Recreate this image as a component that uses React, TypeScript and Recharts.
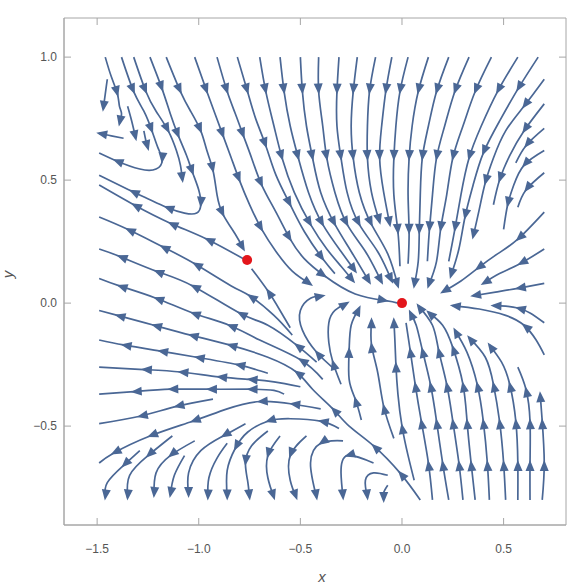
import React from "react";
import { ComposedChart, Line, Scatter, XAxis, YAxis, ReferenceArea, ReferenceLine } from "recharts";

// streamlines: [x, y] or [x, y, 1] where an arrowhead sits
type Pt = number[];

const topLeftStreams: Pt[][] = [
  [[-1.46, 1.0], [-1.43, 0.92], [-1.4, 0.85, 1], [-1.39, 0.8], [-1.38, 0.77], [-1.39, 0.73, 1]],
  [[-1.45, 0.91], [-1.46, 0.85], [-1.47, 0.79, 1]],
  [[-1.35, 0.8], [-1.33, 0.74], [-1.31, 0.67, 1]],
  [[-1.27, 0.7], [-1.26, 0.66], [-1.25, 0.63, 1]],
  [[-1.37, 0.67], [-1.43, 0.68], [-1.49, 0.69, 1]],
  [[-1.38, 1.0], [-1.32, 0.86, 1], [-1.27, 0.78], [-1.23, 0.7, 1], [-1.2, 0.63], [-1.18, 0.58, 1], [-1.21, 0.545], [-1.29, 0.545], [-1.41, 0.58, 1], [-1.49, 0.61]],
  [[-1.32, 1.0], [-1.26, 0.86, 1], [-1.21, 0.78], [-1.15, 0.7, 1], [-1.11, 0.62], [-1.09, 0.56], [-1.08, 0.5, 1]],
  [[-1.24, 1.0], [-1.18, 0.87, 1], [-1.14, 0.77], [-1.1, 0.68, 1], [-1.06, 0.6], [-1.03, 0.53, 1], [-1.0, 0.46], [-0.99, 0.4, 1], [-1.01, 0.366], [-1.07, 0.366], [-1.16, 0.39, 1], [-1.24, 0.42], [-1.33, 0.455, 1], [-1.49, 0.52]],
  [[-1.16, 1.0], [-1.09, 0.86, 1], [-1.04, 0.78], [-0.99, 0.7, 1], [-0.96, 0.62], [-0.93, 0.54, 1], [-0.91, 0.44], [-0.88, 0.36, 1], [-0.82, 0.28], [-0.78, 0.22, 1]],
  [[-0.78, 0.18], [-0.96, 0.26, 1], [-1.14, 0.325, 1], [-1.32, 0.4, 1], [-1.49, 0.48]],
];

const topStreams: Pt[][] = [
  [[-1.02, 1.0], [-0.96, 0.86, 1], [-0.92, 0.77], [-0.88, 0.68, 1], [-0.84, 0.59], [-0.8, 0.5, 1], [-0.75, 0.4], [-0.69, 0.3, 1], [-0.62, 0.21], [-0.54, 0.13], [-0.45, 0.077, 1]],
  [[-0.91, 1.0], [-0.86, 0.86, 1], [-0.82, 0.77], [-0.78, 0.68, 1], [-0.74, 0.59], [-0.69, 0.48, 1], [-0.62, 0.37], [-0.55, 0.26, 1], [-0.48, 0.18], [-0.38, 0.11, 1], [-0.23, 0.037], [-0.08, 0.01, 1], [-0.02, 0.0]],
  [[-0.81, 1.0], [-0.76, 0.86, 1], [-0.72, 0.75], [-0.67, 0.64, 1], [-0.62, 0.52], [-0.55, 0.4, 1], [-0.48, 0.29], [-0.39, 0.18, 1], [-0.33, 0.12]],
  [[-0.7, 1.0], [-0.67, 0.86, 1], [-0.63, 0.72], [-0.59, 0.59, 1], [-0.53, 0.45], [-0.45, 0.32, 1], [-0.37, 0.22], [-0.3, 0.15], [-0.24, 0.09, 1]],
  [[-0.6, 1.0], [-0.58, 0.86, 1], [-0.55, 0.72], [-0.51, 0.59, 1], [-0.46, 0.45], [-0.39, 0.32, 1], [-0.3, 0.21], [-0.23, 0.13, 1]],
  [[-0.5, 1.0], [-0.49, 0.86, 1], [-0.47, 0.72], [-0.44, 0.59, 1], [-0.4, 0.45], [-0.33, 0.32, 1], [-0.25, 0.21], [-0.16, 0.085, 1]],
  [[-0.41, 1.0], [-0.41, 0.86, 1], [-0.39, 0.72], [-0.37, 0.59, 1], [-0.33, 0.45], [-0.27, 0.32, 1], [-0.18, 0.21], [-0.1, 0.085, 1]],
  [[-0.31, 1.0], [-0.32, 0.86, 1], [-0.32, 0.72], [-0.3, 0.59, 1], [-0.27, 0.45], [-0.21, 0.32, 1], [-0.12, 0.21], [-0.05, 0.09, 1]],
  [[-0.22, 1.0], [-0.24, 0.86, 1], [-0.25, 0.72], [-0.24, 0.59, 1], [-0.21, 0.45], [-0.15, 0.32, 1], [-0.07, 0.2], [-0.02, 0.07, 1]],
  [[-0.13, 1.0], [-0.16, 0.86, 1], [-0.17, 0.72], [-0.17, 0.59, 1], [-0.15, 0.45], [-0.11, 0.33, 1]],
  [[-0.05, 1.0], [-0.08, 0.86, 1], [-0.1, 0.72], [-0.11, 0.59, 1], [-0.09, 0.45], [-0.06, 0.32, 1]],
];

const topRightStreams: Pt[][] = [
  [[0.03, 1.0], [-0.01, 0.86, 1], [-0.03, 0.72], [-0.04, 0.59, 1], [-0.04, 0.44], [-0.02, 0.29, 1], [-0.01, 0.15]],
  [[0.13, 1.0], [0.08, 0.86, 1], [0.05, 0.72], [0.035, 0.59, 1], [0.03, 0.44], [0.035, 0.29, 1], [0.03, 0.16]],
  [[0.23, 1.0], [0.17, 0.86, 1], [0.13, 0.72], [0.1, 0.59, 1], [0.09, 0.44], [0.085, 0.29, 1], [0.08, 0.17], [0.06, 0.07, 1]],
  [[0.33, 1.0], [0.26, 0.86, 1], [0.21, 0.72], [0.17, 0.59, 1], [0.15, 0.44], [0.135, 0.3, 1], [0.125, 0.17]],
  [[0.44, 1.0], [0.36, 0.86, 1], [0.3, 0.72], [0.25, 0.59, 1], [0.22, 0.44], [0.19, 0.3, 1], [0.17, 0.17], [0.13, 0.07, 1]],
  [[0.57, 1.0], [0.47, 0.86, 1], [0.39, 0.72], [0.33, 0.59, 1], [0.29, 0.44], [0.26, 0.3, 1], [0.23, 0.17]],
  [[0.67, 1.0], [0.57, 0.87, 1], [0.48, 0.74], [0.4, 0.61, 1], [0.35, 0.48], [0.31, 0.35, 1], [0.28, 0.22], [0.24, 0.11, 1]],
];

const rightStreams: Pt[][] = [
  [[0.7, 0.91], [0.6, 0.8, 1], [0.51, 0.7], [0.45, 0.59], [0.41, 0.49, 1], [0.38, 0.38], [0.35, 0.27, 1]],
  [[0.7, 0.81], [0.6, 0.7, 1], [0.53, 0.6], [0.48, 0.5, 1], [0.45, 0.4]],
  [[0.7, 0.71], [0.61, 0.64, 1], [0.56, 0.57]],
  [[0.7, 0.62], [0.6, 0.56, 1], [0.55, 0.48], [0.52, 0.4, 1], [0.5, 0.3]],
  [[0.7, 0.53], [0.61, 0.46, 1], [0.57, 0.39]],
  [[0.7, 0.37], [0.57, 0.26, 1], [0.47, 0.2], [0.37, 0.14, 1], [0.29, 0.09], [0.2, 0.045, 1]],
  [[0.7, 0.22], [0.58, 0.16, 1], [0.48, 0.12], [0.4, 0.08, 1]],
  [[0.7, 0.08], [0.57, 0.06, 1], [0.46, 0.045], [0.35, 0.03, 1]],
  [[0.7, -0.08], [0.63, -0.04], [0.57, -0.02, 1], [0.51, -0.012], [0.45, -0.01, 1]],
  [[0.7, -0.21], [0.66, -0.15], [0.6, -0.09, 1], [0.51, -0.05], [0.38, -0.024], [0.25, -0.01, 1]],
];

const bottomRightStreams: Pt[][] = [
  [[0.15, -0.8], [0.13, -0.65, 1], [0.095, -0.48, 1], [0.065, -0.33, 1], [0.04, -0.19, 1], [0.02, -0.08]],
  [[0.23, -0.8], [0.2, -0.65, 1], [0.17, -0.48, 1], [0.14, -0.33, 1], [0.1, -0.19, 1], [0.07, -0.09], [0.04, -0.037, 1]],
  [[0.3, -0.8], [0.28, -0.65, 1], [0.25, -0.48, 1], [0.22, -0.33, 1], [0.18, -0.19, 1], [0.15, -0.09], [0.08, -0.01, 1]],
  [[0.36, -0.8], [0.34, -0.65, 1], [0.32, -0.48, 1], [0.3, -0.33, 1], [0.25, -0.18, 1], [0.2, -0.09], [0.13, -0.037, 1]],
  [[0.43, -0.8], [0.42, -0.65, 1], [0.4, -0.48, 1], [0.37, -0.33, 1], [0.32, -0.2], [0.26, -0.11, 1]],
  [[0.51, -0.8], [0.5, -0.65, 1], [0.48, -0.48, 1], [0.45, -0.33, 1], [0.41, -0.22], [0.33, -0.14, 1]],
  [[0.57, -0.8], [0.57, -0.65, 1], [0.56, -0.48, 1], [0.53, -0.33, 1], [0.49, -0.24], [0.43, -0.17, 1]],
  [[0.63, -0.8], [0.63, -0.65, 1], [0.63, -0.48, 1], [0.61, -0.35, 1], [0.57, -0.26]],
  [[0.69, -0.8], [0.7, -0.65, 1], [0.69, -0.48, 1], [0.68, -0.37, 1]],
];

const centerStreams: Pt[][] = [
  [[0.06, -0.72], [0.03, -0.62], [0.0, -0.5, 1], [-0.02, -0.37], [-0.03, -0.25, 1], [-0.035, -0.15], [-0.04, -0.07, 1]],
  [[-0.04, -0.55], [-0.09, -0.42, 1], [-0.12, -0.28], [-0.15, -0.17, 1], [-0.15, -0.07, 1]],
  [[-0.2, -0.475], [-0.23, -0.39, 1], [-0.26, -0.31], [-0.26, -0.19, 1], [-0.25, -0.09], [-0.21, -0.02, 1]],
  [[-0.3, -0.33], [-0.34, -0.24, 1], [-0.36, -0.16], [-0.36, -0.08], [-0.33, -0.03], [-0.27, 0.0, 1]],
  [[-0.33, -0.27], [-0.42, -0.2, 1], [-0.49, -0.11], [-0.5, -0.03], [-0.45, 0.02], [-0.39, 0.03, 1]],
  [[-0.55, -0.1], [-0.6, -0.03], [-0.66, 0.05, 1], [-0.74, 0.14]],
];

const leftStreams: Pt[][] = [
  [[-0.54, -0.13], [-0.63, -0.05], [-0.75, 0.03, 1], [-0.84, 0.07], [-1.02, 0.16, 1], [-1.18, 0.23, 1], [-1.35, 0.3, 1], [-1.49, 0.35]],
  [[-0.42, -0.24], [-0.52, -0.17, 1], [-0.66, -0.09], [-0.8, -0.04, 1], [-1.03, 0.07, 1], [-1.21, 0.13, 1], [-1.39, 0.19, 1], [-1.49, 0.22]],
  [[-0.39, -0.31], [-0.5, -0.23, 1], [-0.7, -0.15], [-0.85, -0.09, 1], [-1.03, -0.04, 1], [-1.21, 0.02, 1], [-1.39, 0.07, 1], [-1.49, 0.1]],
  [[0.09, -0.8], [-0.01, -0.69, 1], [-0.14, -0.58, 1], [-0.26, -0.5], [-0.34, -0.43, 1], [-0.44, -0.35], [-0.52, -0.28, 1], [-0.66, -0.22], [-0.85, -0.17, 1], [-1.04, -0.13, 1], [-1.22, -0.09, 1], [-1.4, -0.05, 1], [-1.49, -0.03]],
  [[-0.66, -0.285], [-0.72, -0.27], [-0.81, -0.25, 1], [-1.01, -0.22, 1], [-1.19, -0.195, 1], [-1.37, -0.17, 1], [-1.49, -0.15]],
  [[-0.5, -0.34], [-0.63, -0.32], [-0.75, -0.31, 1], [-0.9, -0.3, 1], [-1.09, -0.28, 1], [-1.27, -0.27, 1], [-1.49, -0.26]],
  [[-0.58, -0.37], [-0.63, -0.355], [-0.75, -0.35, 1], [-0.95, -0.35, 1], [-1.14, -0.35, 1], [-1.32, -0.36, 1], [-1.49, -0.37]],
  [[-0.93, -0.39], [-1.11, -0.42, 1], [-1.29, -0.46, 1], [-1.49, -0.49]],
  [[-0.4, -0.43], [-0.54, -0.41, 1], [-0.7, -0.4, 1], [-0.86, -0.43], [-1.03, -0.48, 1], [-1.24, -0.54, 1], [-1.42, -0.61, 1], [-1.49, -0.65]],
];

const bottomLeftStreams: Pt[][] = [
  [[-1.29, -0.6], [-1.37, -0.66, 1], [-1.45, -0.73], [-1.46, -0.79, 1]],
  [[-1.13, -0.54], [-1.25, -0.62, 1], [-1.34, -0.7], [-1.35, -0.79, 1]],
  [[-1.02, -0.56], [-1.14, -0.62, 1], [-1.21, -0.69], [-1.22, -0.78, 1]],
  [[-1.07, -0.62], [-1.12, -0.7], [-1.14, -0.78, 1]],
  [[-0.31, -0.51], [-0.4, -0.48, 1], [-0.55, -0.47], [-0.66, -0.48, 1], [-0.76, -0.525], [-0.82, -0.59, 1], [-0.86, -0.68], [-0.86, -0.79, 1]],
  [[-0.77, -0.49], [-0.88, -0.54, 1], [-0.99, -0.6], [-1.05, -0.69], [-1.05, -0.78, 1]],
  [[-0.86, -0.57], [-0.91, -0.63], [-0.95, -0.71], [-0.955, -0.79, 1]],
  [[-0.66, -0.52], [-0.74, -0.58], [-0.77, -0.65, 1], [-0.76, -0.72], [-0.75, -0.79, 1]],
  [[-0.6, -0.54], [-0.66, -0.62, 1], [-0.66, -0.71], [-0.63, -0.79, 1]],
  [[-0.47, -0.54], [-0.55, -0.62, 1], [-0.55, -0.72], [-0.52, -0.79, 1]],
  [[-0.29, -0.56], [-0.4, -0.57, 1], [-0.45, -0.65], [-0.42, -0.79, 1]],
  [[-0.14, -0.65], [-0.27, -0.62, 1], [-0.3, -0.69], [-0.29, -0.79, 1]],
  [[-0.07, -0.7], [-0.14, -0.69], [-0.18, -0.72], [-0.17, -0.79, 1]],
  [[-0.07, -0.74], [-0.09, -0.77], [-0.09, -0.8, 1]],
];

const fixedPoints = [
  { x: -0.762, y: 0.175 },
  { x: 0, y: 0 },
];

const xTicks = [-1.5, -1, -0.5, 0, 0.5];
const yTicks = [-0.5, 0, 0.5, 1];

const W = 586;
const H = 586;
const MARGIN = { top: 18, right: 20, left: 0, bottom: 0 };
const Y_AXIS_W = 64;
const X_AXIS_H = 61;
const X_DOM: [number, number] = [-1.663, 0.807];
const Y_DOM: [number, number] = [-0.902, 1.159];
const KX = (W - MARGIN.left - MARGIN.right - Y_AXIS_W) / (X_DOM[1] - X_DOM[0]);
const KY = (H - MARGIN.top - MARGIN.bottom - X_AXIS_H) / (Y_DOM[1] - Y_DOM[0]);
const TICK_PX = 7;

const STREAM = "#4a6795";
const FRAME = "#a6a6a6";
const TEXT = "#555555";
const FONT = "'Liberation Sans', Arial, sans-serif";

const fmt = (v: number) => (v < 0 ? "\u2212" : "") + Math.abs(v).toFixed(1);

const toSeries = (s: Pt[]) =>
  s.map((p, i) => {
    const a = s[Math.max(0, i - 1)];
    const b = s[Math.min(s.length - 1, i + 1)];
    return { x: p[0], y: p[1], arrow: p[2] === 1, dx: b[0] - a[0], dy: b[1] - a[1] };
  });

const streams = [
  ...topLeftStreams,
  ...topStreams,
  ...topRightStreams,
  ...rightStreams,
  ...bottomRightStreams,
  ...centerStreams,
  ...leftStreams,
  ...bottomLeftStreams,
].map(toSeries);

function ArrowHead(props: any) {
  const { cx, cy, payload, index } = props;
  if (!payload || !payload.arrow || cx == null || cy == null) return <g key={`n-${index}`} />;
  const vx = payload.dx * KX;
  const vy = -payload.dy * KY;
  const len = Math.hypot(vx, vy) || 1;
  const ux = vx / len;
  const uy = vy / len;
  const tx = cx + ux * 3;
  const ty = cy + uy * 3;
  const bx = tx - ux * 11;
  const by = ty - uy * 11;
  const nx = -uy * 4.5;
  const ny = ux * 4.5;
  return (
    <path
      key={`a-${index}`}
      d={`M${tx},${ty}L${bx + nx},${by + ny}L${bx - nx},${by - ny}Z`}
      fill={STREAM}
      stroke="none"
    />
  );
}

function BottomTick(props: any) {
  const { x, y, payload } = props;
  const ay = y - 19;
  return (
    <g>
      <line x1={x} x2={x} y1={ay} y2={ay - TICK_PX} stroke={FRAME} />
      <text x={x} y={y} dy="0.71em" textAnchor="middle" fill={TEXT} fontSize={12} fontFamily={FONT}>
        {fmt(payload.value)}
      </text>
    </g>
  );
}

function LeftTick(props: any) {
  const { x, y, payload } = props;
  const ax = x + 7;
  return (
    <g>
      <line x1={ax} x2={ax + TICK_PX} y1={y} y2={y} stroke={FRAME} />
      <text x={x} y={y} dy="0.355em" textAnchor="end" fill={TEXT} fontSize={12} fontFamily={FONT}>
        {fmt(payload.value)}
      </text>
    </g>
  );
}

function XTitle(props: any) {
  const vb = props.viewBox;
  return (
    <text x={vb.x + vb.width / 2 + 7} y={vb.y + vb.height - 4} textAnchor="middle" fill={TEXT} fontSize={15} fontStyle="italic" fontFamily={FONT}>
      x
    </text>
  );
}

function YTitle(props: any) {
  const vb = props.viewBox;
  const cx = vb.x + 13;
  const cy = vb.y + vb.height / 2 + 3;
  return (
    <text x={cx} y={cy} transform={`rotate(-90 ${cx} ${cy})`} textAnchor="middle" fill={TEXT} fontSize={15} fontStyle="italic" fontFamily={FONT}>
      y
    </text>
  );
}

export default function App() {
  const tx = TICK_PX / KX;
  const ty = TICK_PX / KY;
  return (
    <div style={{ width: W, height: H, background: "#fff" }}>
      <style>{"body{margin:0}"}</style>
      <ComposedChart width={W} height={H} margin={MARGIN}>
        <XAxis
          type="number"
          dataKey="x"
          domain={X_DOM}
          allowDataOverflow
          ticks={xTicks}
          height={X_AXIS_H}
          tickSize={0}
          tickMargin={19}
          tickLine={false}
          axisLine={{ stroke: FRAME }}
          tick={<BottomTick />}
          label={<XTitle />}
        />
        <YAxis
          type="number"
          domain={Y_DOM}
          allowDataOverflow
          ticks={yTicks}
          width={Y_AXIS_W}
          tickSize={0}
          tickMargin={7}
          tickLine={false}
          axisLine={{ stroke: FRAME }}
          tick={<LeftTick />}
          label={<YTitle />}
        />
        <ReferenceArea
          x1={X_DOM[0]}
          x2={X_DOM[1]}
          y1={Y_DOM[0]}
          y2={Y_DOM[1]}
          fill="none"
          fillOpacity={0}
          stroke={FRAME}
          strokeWidth={1}
          ifOverflow="visible"
        />
        {xTicks.map((v) => (
          <ReferenceLine
            key={`tt-${v}`}
            segment={[{ x: v, y: Y_DOM[1] }, { x: v, y: Y_DOM[1] - ty }]}
            stroke={FRAME}
            ifOverflow="visible"
          />
        ))}
        {yTicks.map((v) => (
          <ReferenceLine
            key={`rt-${v}`}
            segment={[{ x: X_DOM[1], y: v }, { x: X_DOM[1] - tx, y: v }]}
            stroke={FRAME}
            ifOverflow="visible"
          />
        ))}
        {streams.map((d, i) => (
          <Line
            key={`s-${i}`}
            data={d}
            dataKey="y"
            type="natural"
            stroke={STREAM}
            strokeWidth={1.7}
            dot={ArrowHead}
            activeDot={false}
            isAnimationActive={false}
            legendType="none"
          />
        ))}
        <Scatter
          data={fixedPoints}
          dataKey="y"
          fill="#e3161b"
          isAnimationActive={false}
          shape={(p: any) => <circle cx={p.cx} cy={p.cy} r={5} fill="#e3161b" />}
        />
      </ComposedChart>
    </div>
  );
}
